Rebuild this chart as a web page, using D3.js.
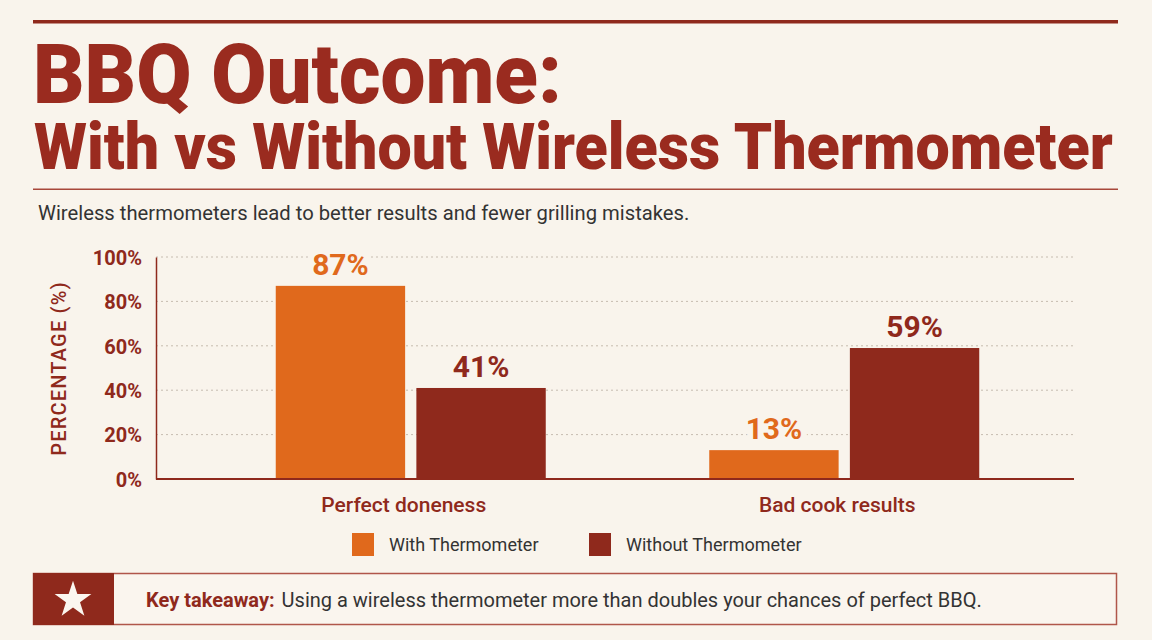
<!DOCTYPE html>
<html>
<head>
<meta charset="utf-8">
<script src="https://cdn.jsdelivr.net/npm/d3@7"></script>
<style>
  html, body { margin: 0; padding: 0; background: #f9f4ec; }
  svg { display: block; }
</style>
</head>
<body>
<svg id="chart" width="1152" height="640"></svg>
<script>
// ---- data ----
const categories = ["Perfect doneness", "Bad cook results"];
const seriesNames = ["With Thermometer", "Without Thermometer"];
const withValues = [87, 13];
const withoutValues = [41, 59];
const yTicks = [0, 20, 40, 60, 80, 100];
const titleLine1 = "BBQ Outcome:";
const titleLine2 = "With vs Without Wireless Thermometer";
const subtitle = "Wireless thermometers lead to better results and fewer grilling mistakes.";
const yAxisTitle = "PERCENTAGE (%)";
const takeawayLabel = "Key takeaway:";
const takeawayText = "Using a wireless thermometer more than doubles your chances of perfect BBQ.";

// ---- styles ----
const BG = "#f9f4ec";
const DARK = "#8f291c";
const ORANGE = "#e0691c";
const TITLE = "#9a2b1f";
const TEXT = "#333333";
const FONT = "Roboto, 'Noto Sans', sans-serif";
const seriesColors = [ORANGE, DARK];

const rows = categories.map((c, i) => ({ category: c, values: [withValues[i], withoutValues[i]] }));

const svg = d3.select("#chart");
svg.append("rect").attr("width", 1152).attr("height", 640).attr("fill", BG);

// fit a text horizontally to a target width by scaling (keeps glyph height)
function fitText(sel, x, yb, width) {
  const w = sel.node().getComputedTextLength();
  const k = Math.min(1.2, width / w);
  sel.attr("transform", `translate(${x},${yb}) scale(${k},1)`);
}

// ---- header ----
svg.append("rect").attr("x", 33).attr("y", 20).attr("width", 1085).attr("height", 3.5).attr("fill", DARK);
const t1 = svg.append("text").attr("x", 0).attr("y", 0)
  .attr("font-family", FONT).attr("font-weight", 900).attr("font-size", 83)
  .attr("fill", TITLE).text(titleLine1);
fitText(t1, 33, 103, 529);
const t2 = svg.append("text").attr("x", 0).attr("y", 0)
  .attr("font-family", FONT).attr("font-weight", 900).attr("font-size", 64)
  .attr("fill", TITLE).text(titleLine2);
fitText(t2, 34, 169, 1079);
svg.append("rect").attr("x", 33).attr("y", 188.5).attr("width", 1085).attr("height", 1.5).attr("fill", "#a8473a");
const st = svg.append("text").attr("x", 0).attr("y", 0)
  .attr("font-family", FONT).attr("font-size", 20).attr("fill", TEXT)
  .text(subtitle);
fitText(st, 38, 220, 652);

// ---- scales ----
const plotLeft = 156, plotRight = 1074;
const y = d3.scaleLinear().domain([0, 100]).range([479, 257]);
const x0 = d3.scaleBand().domain(categories).range([194, 1061]).paddingInner(0).paddingOuter(0);
const x1 = d3.scaleBand().domain(seriesNames).range([-135, 135]).paddingInner(0.08);

// gridlines
const grid = svg.append("g");
grid.selectAll("line").data(yTicks.filter(t => t > 0)).join("line")
  .attr("x1", plotLeft).attr("x2", plotRight)
  .attr("y1", d => y(d)).attr("y2", d => y(d))
  .attr("stroke", "#c6bcb0").attr("stroke-width", 1).attr("stroke-dasharray", "2,3");

// y axis
const yAxis = d3.axisLeft(y).tickValues(yTicks).tickFormat(d => d + "%").tickSize(0).tickPadding(14);
const yg = svg.append("g").attr("transform", `translate(${plotLeft},0)`).call(yAxis);
yg.select(".domain").attr("stroke", DARK).attr("stroke-width", 1.5);
yg.selectAll("text").attr("font-family", FONT).attr("font-weight", 700).attr("font-size", 20)
  .attr("fill", DARK).attr("dy", "0.36em");

svg.append("text")
  .attr("transform", `translate(66,${(280 + 457) / 2}) rotate(-90)`)
  .attr("text-anchor", "middle").attr("font-family", FONT).attr("font-weight", 500).attr("font-size", 20)
  .attr("fill", DARK).attr("letter-spacing", 1.2)
  .text(yAxisTitle);

// bars
const groups = svg.append("g").selectAll("g").data(rows).join("g")
  .attr("transform", d => `translate(${x0(d.category) + x0.bandwidth() / 2},0)`);

groups.selectAll("rect").data(d => d.values.map((v, i) => ({ key: seriesNames[i], value: v, i })))
  .join("rect")
  .attr("x", d => x1(d.key)).attr("width", x1.bandwidth())
  .attr("y", d => y(d.value)).attr("height", d => y(0) - y(d.value))
  .attr("fill", d => seriesColors[d.i]);

groups.selectAll("text.val").data(d => d.values.map((v, i) => ({ key: seriesNames[i], value: v, i })))
  .join("text").attr("class", "val")
  .attr("x", d => x1(d.key) + x1.bandwidth() / 2).attr("y", d => y(d.value) - 11)
  .attr("text-anchor", "middle").attr("font-family", FONT).attr("font-weight", 700).attr("font-size", 30)
  .attr("fill", d => seriesColors[d.i])
  .attr("stroke", BG).attr("stroke-width", 12).attr("paint-order", "stroke").attr("stroke-linejoin", "round")
  .text(d => d.value + "%");

// x axis baseline + category labels
const xAxis = d3.axisBottom(x0).tickSize(0).tickPadding(14);
const xg = svg.append("g").attr("transform", `translate(0,${y(0)})`).call(xAxis);
xg.select(".domain").remove();
xg.append("line").attr("x1", plotLeft).attr("x2", plotRight).attr("y1", 0).attr("y2", 0)
  .attr("stroke", DARK).attr("stroke-width", 2.2);
xg.selectAll(".tick text").attr("font-family", FONT).attr("font-weight", 500).attr("font-size", 21)
  .attr("fill", DARK).attr("dx", -7).attr("dy", "0.9em");

// legend
const legendX = [352, 589];
const legend = svg.append("g").selectAll("g").data(seriesNames).join("g")
  .attr("transform", (d, i) => `translate(${legendX[i]},533)`);
legend.append("rect").attr("width", 22).attr("height", 23).attr("fill", (d, i) => seriesColors[i]);
legend.append("text").attr("x", 37).attr("y", 18)
  .attr("font-family", FONT).attr("font-size", 18).attr("fill", TEXT).text(d => d);

// takeaway box
const box = svg.append("g");
box.append("rect").attr("x", 33.5).attr("y", 573.5).attr("width", 1083).attr("height", 51)
  .attr("fill", "#faf5ee").attr("stroke", "#b0564a").attr("stroke-width", 1.5);
box.append("rect").attr("x", 33).attr("y", 573).attr("width", 81).attr("height", 52).attr("fill", DARK);
box.append("path").attr("d", d3.symbol().type(d3.symbolStar).size(420)())
  .attr("transform", "translate(73,600)").attr("fill", "#fbf6ef");
const tk = box.append("text").attr("x", 146).attr("y", 607).attr("font-family", FONT).attr("font-size", 20);
tk.append("tspan").attr("font-weight", 700).attr("fill", DARK).text(takeawayLabel);
tk.append("tspan").attr("fill", TEXT).attr("dx", 7).text(takeawayText);
</script>
</body>
</html>
